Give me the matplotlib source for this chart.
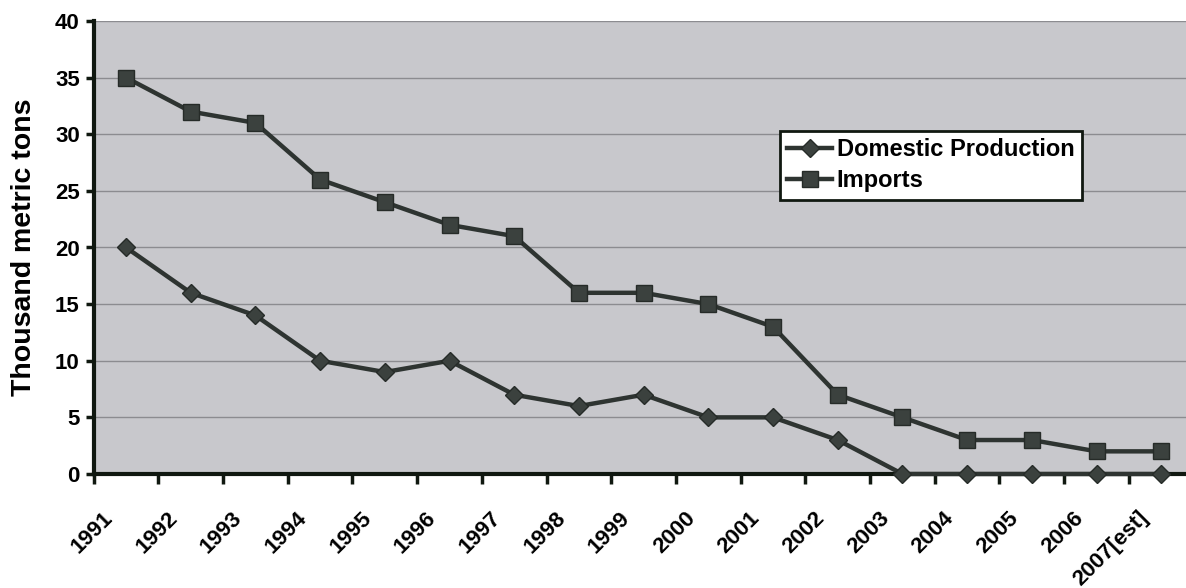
import matplotlib
matplotlib.use("Agg")
import matplotlib.pyplot as plt
import matplotlib.transforms as mtransforms
import numpy as np

years = ["1991", "1992", "1993", "1994", "1995", "1996", "1997", "1998", "1999",
         "2000", "2001", "2002", "2003", "2004", "2005", "2006", "2007[est]"]
domestic = [20, 16, 14, 10, 9, 10, 7, 6, 7, 5, 5, 3, 0, 0, 0, 0, 0]
imports = [35, 32, 31, 26, 24, 22, 21, 16, 16, 15, 13, 7, 5, 3, 3, 2, 2]
y_ticks = [0, 5, 10, 15, 20, 25, 30, 35, 40]

plt.rcParams['font.family'] = ['Liberation Sans', 'DejaVu Sans']

W, H = 1186, 588
fig = plt.figure(figsize=(W / 100, H / 100), dpi=100)
left_px, right_px, top_px, bot_px = 93.7, 1193.6, 21, 474
ax = fig.add_axes([left_px / W, 1 - bot_px / H, (right_px - left_px) / W, (bot_px - top_px) / H])

ax.set_facecolor('#c8c8cc')
x = np.arange(len(years))
line_col = '#2e3431'
ax.plot(x, imports, color=line_col, lw=3.2, marker='s', markersize=11,
        markerfacecolor='#3b413e', markeredgecolor='#262b28', label='Imports', zorder=3, clip_on=False)
ax.plot(x, domestic, color=line_col, lw=3.2, marker='D', markersize=9,
        markerfacecolor='#3b413e', markeredgecolor='#262b28', label='Domestic Production', zorder=4, clip_on=False)

ax.set_xlim(-0.5, len(years) - 0.5)
ax.set_ylim(0, 40)
ax.set_yticks(y_ticks)
ax.set_yticklabels([str(v) for v in y_ticks], fontsize=16, fontweight='bold')
ax.yaxis.grid(True, color='#8c8c90', lw=1.0)
ax.set_axisbelow(True)

# category labels at centers, tick marks at boundaries
ax.set_xticks(x)
ax.set_xticklabels(years, fontsize=16, fontweight='bold', rotation=45, ha='right', va='top')
ax.set_xticks(np.arange(len(years) + 1) - 0.5, minor=True)
ax.tick_params(axis='x', which='major', length=0, pad=24)
ax.tick_params(axis='x', which='minor', length=7, width=2.5, color='#101810', direction='out')
ax.tick_params(axis='y', which='major', length=6, width=2.5, color='#101810', direction='out', pad=4)
offset = mtransforms.ScaledTranslation(-9 / 100, 0, fig.dpi_scale_trans)
for lab in ax.get_xticklabels():
    lab.set_transform(lab.get_transform() + offset)

for s in ['top', 'right']:
    ax.spines[s].set_visible(False)
for s in ['left', 'bottom']:
    ax.spines[s].set_linewidth(3)
    ax.spines[s].set_color('#101810')

ax.set_ylabel('Thousand metric tons', fontsize=20.5, fontweight='bold', labelpad=13)

handles, labels = ax.get_legend_handles_labels()
leg = ax.legend(handles[::-1], labels[::-1], loc='upper left', bbox_to_anchor=(0.624, 0.757),
                borderaxespad=0, fancybox=False, frameon=True, framealpha=1,
                edgecolor='#101810', prop={'weight': 'bold', 'size': 17},
                handlelength=1.9, handletextpad=0.2, labelspacing=0.35, borderpad=0.3)
leg.get_frame().set_linewidth(2)

fig.savefig('out.png', dpi=100)
